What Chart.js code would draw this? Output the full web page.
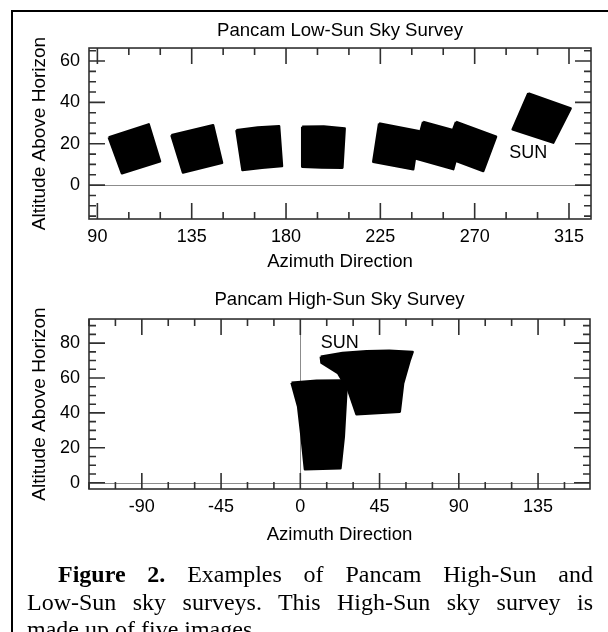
<!DOCTYPE html>
<html>
<head>
<meta charset="utf-8">
<script src="https://cdn.jsdelivr.net/npm/chart.js@4.4.1/dist/chart.umd.min.js"></script>
<style>
html,body{margin:0;padding:0;background:#fff;}
body{width:608px;height:632px;position:relative;overflow:hidden;}
#frame{position:absolute;left:11px;top:10px;width:640px;height:660px;border-left:2px solid #000;border-top:2px solid #000;}
#c1{position:absolute;left:0;top:0;}
#c2{position:absolute;left:0;top:280px;}
.cap{position:absolute;font-family:"Liberation Serif","Times New Roman",serif;font-size:24px;line-height:28px;color:#000;white-space:nowrap;}
.just{text-align:justify;text-align-last:justify;white-space:normal;}
</style>
</head>
<body>
<div id="frame"></div>
<canvas id="c1" width="608" height="282" style="width:608px;height:282px"></canvas>
<canvas id="c2" width="608" height="272" style="width:608px;height:272px"></canvas>
<div class="cap just" style="left:58px;top:560px;width:535px;"><b>Figure 2.</b> Examples of Pancam High-Sun and</div>
<div class="cap just" style="left:27px;top:588px;width:566px;">Low-Sun sky surveys. This High-Sun sky survey is</div>
<div class="cap" style="left:27px;top:615px;">made up of five images.</div>
<script>
// ---------- data ----------
const lowTitle = 'Pancam Low-Sun Sky Survey';
const highTitle = 'Pancam High-Sun Sky Survey';
const xTitle = 'Azimuth Direction';
const yTitle = 'Altitude Above Horizon';

const lowTicksX = [90, 135, 180, 225, 270, 315];
const lowTicksY = [0, 20, 40, 60];
const highTicksX = [-90, -45, 0, 45, 90, 135];
const highTicksY = [0, 20, 40, 60, 80];

// Low-Sun survey image footprints: [azimuth, altitude] outline vertices
const lowFrame1 = [[95.4, 23.1], [114.5, 29.4], [119.9, 11.5], [101.7, 5.7]];
const lowFrame2 = [[125.3, 24.2], [145.2, 29.0], [149.5, 10.8], [130.8, 6.1]];
const lowFrame3 = [[156.3, 26.6], [166.5, 27.9], [176.7, 28.5], [178.1, 9.2], [168.5, 8.4], [159.2, 7.3]];
const lowFrame4 = [[187.7, 28.2], [198.0, 28.4], [208.0, 27.4], [206.9, 8.4], [197.0, 8.5], [187.7, 8.9]];
const lowFrame5 = [[224.4, 29.8], [243.5, 26.1], [240.7, 7.6], [221.6, 11.3]];
const lowFrame6 = [[245.4, 30.6], [264.5, 25.2], [259.8, 7.7], [240.7, 13.2]];
const lowFrame7 = [[261.1, 30.6], [280.2, 23.4], [274.1, 6.8], [255.0, 14.0]];
const lowSunFrame = [[295.6, 44.4], [315.8, 37.1], [307.5, 20.5], [288.1, 26.9]];
const lowSunLabel = ['SUN', 295.6, 15.3];

// High-Sun survey image footprints
const highFrameLower = [[-5.0, 57.3], [9.2, 58.4], [24.3, 58.6], [26.2, 53.1], [24.7, 26.3], [22.8, 8.2], [2.6, 7.7], [0.7, 26.3], [-1.25, 43.5]];
const highFrameUpper = [[11.6, 72.2], [24.0, 74.3], [37.6, 75.4], [50.5, 75.6], [63.8, 75.0], [62.2, 70.3], [58.4, 56.9], [56.5, 40.7], [31.9, 39.2], [27.2, 53.1], [21.5, 62.7], [12.0, 68.7]];
const highSunLabel = ['SUN', 22.4, 79.8];

// ---------- helpers ----------
Chart.defaults.font.family = '"Liberation Sans", Arial, sans-serif';
Chart.defaults.color = '#000';

function footprint(pts) {
  const data = pts.map(p => ({x: p[0], y: p[1]}));
  data.push({x: pts[0][0], y: pts[0][1]});
  return {
    data, borderColor: '#000', backgroundColor: '#000', borderWidth: 2.4,
    borderJoinStyle: 'round', pointRadius: 0, pointHoverRadius: 0,
    fill: 'shape', tension: 0
  };
}

const axisFrame = {
  id: 'axisFrame',
  beforeDatasetsDraw(chart, args, o) {
    const {ctx, chartArea: a, scales: {x, y}} = chart;
    ctx.save();
    ctx.strokeStyle = '#8c8c8c';
    ctx.lineWidth = 1;
    ctx.beginPath();
    if (o.zeroY) { const py = Math.round(y.getPixelForValue(0)) + 0.5; ctx.moveTo(a.left, py); ctx.lineTo(a.right, py); }
    if (o.zeroX) { const px = Math.round(x.getPixelForValue(0)) + 0.5; ctx.moveTo(px, a.top); ctx.lineTo(px, a.bottom); }
    ctx.stroke();
    ctx.restore();
  },
  afterDatasetsDraw(chart, args, o) {
    const {ctx, chartArea: a, scales: {x, y}} = chart;
    ctx.save();
    ctx.strokeStyle = '#303030';
    ctx.lineWidth = 1.6;
    ctx.strokeRect(a.left, a.top, a.right - a.left, a.bottom - a.top);
    ctx.beginPath();
    for (let v = Math.ceil(x.min / o.xMinor) * o.xMinor; v <= x.max; v += o.xMinor) {
      const len = (v % o.xMajor === 0) ? 16 : 7;
      const px = x.getPixelForValue(v);
      ctx.moveTo(px, a.bottom); ctx.lineTo(px, a.bottom - len);
      ctx.moveTo(px, a.top); ctx.lineTo(px, a.top + len);
    }
    for (let v = Math.ceil(y.min / o.yMinor) * o.yMinor; v <= y.max; v += o.yMinor) {
      const len = (v % o.yMajor === 0) ? 16 : 7;
      const py = y.getPixelForValue(v);
      ctx.moveTo(a.left, py); ctx.lineTo(a.left + len, py);
      ctx.moveTo(a.right, py); ctx.lineTo(a.right - len, py);
    }
    ctx.stroke();
    if (o.label) {
      ctx.fillStyle = '#000';
      ctx.font = '18px "Liberation Sans", Arial, sans-serif';
      ctx.textAlign = 'center';
      ctx.textBaseline = 'middle';
      ctx.fillText(o.label[0], x.getPixelForValue(o.label[1]), y.getPixelForValue(o.label[2]));
    }
    ctx.restore();
  }
};

function makeChart(canvasId, cfg) {
  const H = cfg.height;
  return new Chart(document.getElementById(canvasId), {
    type: 'line',
    data: {datasets: cfg.frames.map(footprint)},
    plugins: [axisFrame],
    options: {
      responsive: false,
      animation: false,
      events: [],
      layout: {padding: {left: 0, right: cfg.padRight, top: 0, bottom: 0}},
      plugins: {
        legend: {display: false},
        tooltip: {enabled: false},
        title: {
          display: true, text: cfg.title, fullSize: false,
          font: {size: 18.6, weight: 'normal'}, color: '#000',
          padding: {top: cfg.titleTop, bottom: cfg.titleBottom}
        },
        axisFrame: {xMinor: 15, xMajor: 45, yMinor: 5, yMajor: 20, zeroX: cfg.zeroX, zeroY: true, label: cfg.label}
      },
      scales: {
        x: {
          type: 'linear', min: cfg.xMin, max: cfg.xMax,
          grid: {display: false, drawTicks: false}, border: {display: false},
          afterBuildTicks: s => { s.ticks = cfg.ticksX.map(v => ({value: v})); },
          afterFit: s => { s.height = H - cfg.areaBottom; },
          ticks: {font: {size: 18}, color: '#000', padding: 7, maxRotation: 0, autoSkip: false},
          title: {display: true, text: xTitle, font: {size: 18.6}, color: '#000', padding: {top: 0, bottom: cfg.xTitleBottom}}
        },
        y: {
          type: 'linear', min: cfg.yMin, max: cfg.yMax,
          grid: {display: false, drawTicks: false}, border: {display: false},
          afterBuildTicks: s => { s.ticks = cfg.ticksY.map(v => ({value: v})); },
          afterFit: s => { s.width = 89; },
          ticks: {font: {size: 18}, color: '#000', padding: 9, autoSkip: false},
          title: {display: true, text: yTitle, font: {size: 19}, color: '#000', padding: {top: 28.6, bottom: 0}}
        }
      }
    }
  });
}

makeChart('c1', {
  height: 282, areaBottom: 219, padRight: 17,
  title: lowTitle, titleTop: 19.6, titleBottom: 6.1,
  xMin: 86, xMax: 325.5, yMin: -16.4, yMax: 66.3,
  ticksX: lowTicksX, ticksY: lowTicksY, xTitleBottom: 8.8,
  zeroX: false, label: lowSunLabel,
  frames: [lowFrame1, lowFrame2, lowFrame3, lowFrame4, lowFrame5, lowFrame6, lowFrame7, lowSunFrame]
});

makeChart('c2', {
  height: 272, areaBottom: 209, padRight: 18,
  title: highTitle, titleTop: 8.8, titleBottom: 7.9,
  xMin: -120, xMax: 164.5, yMin: -3.6, yMax: 93.8,
  ticksX: highTicksX, ticksY: highTicksY, xTitleBottom: 5.8,
  zeroX: true, label: highSunLabel,
  frames: [highFrameLower, highFrameUpper]
});
</script>
</body>
</html>
